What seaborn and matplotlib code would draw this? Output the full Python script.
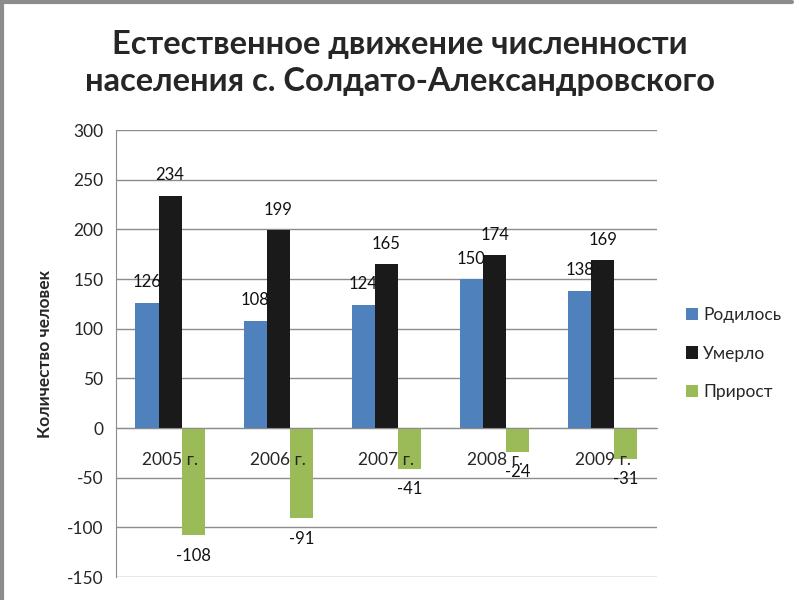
import numpy as np
import pandas as pd
import matplotlib
matplotlib.use("Agg")
import matplotlib.pyplot as plt
import seaborn as sns
from matplotlib.lines import Line2D

years = ["2005 г.", "2006 г.", "2007 г.", "2008 г.", "2009 г."]
series = ["Родилось", "Умерло", "Прирост"]
born = [126, 108, 124, 150, 138]
died = [234, 199, 165, 174, 169]
growth = [-108, -91, -41, -24, -31]
colors = ["#4F81BD", "#1A1A1A", "#9BBB59"]

df = pd.DataFrame({
    "year": years * 3,
    "series": [s for s in series for _ in years],
    "value": born + died + growth,
})

sns.set_style("white")
plt.rcParams["font.family"] = ["Lato", "DejaVu Sans"]
plt.rcParams["axes.unicode_minus"] = False

fig = plt.figure(figsize=(8, 6), dpi=100)
ax = fig.add_axes([0.145, 0.0383, 0.676, 0.745])

sns.barplot(data=df, x="year", y="value", hue="series", palette=colors,
            width=0.64, ax=ax, saturation=1, edgecolor="none", errorbar=None)

for cont in ax.containers:
    ax.bar_label(cont, fmt="%d", padding=9, fontsize=12, color="#111111")

ax.set_ylim(-150, 300)
ax.set_yticks(np.arange(-150, 301, 50))
ax.yaxis.grid(True, color="#8C8C8C", linewidth=1)
ax.set_axisbelow(True)
ax.xaxis.set_zorder(5)
ax.set_xlim(-0.5, len(years) - 0.5)

for s in ["top", "right"]:
    ax.spines[s].set_visible(False)
ax.spines["left"].set_color("#8C8C8C")
ax.spines["bottom"].set_position(("data", 0))
ax.spines["bottom"].set_color("#8C8C8C")
ax.tick_params(axis="y", length=5, color="#8C8C8C", labelsize=12.5, pad=4)
ax.tick_params(axis="x", length=0, labelsize=12.5, pad=17)

ax.set_xlabel("")
ax.set_ylabel("Количество человек", fontsize=12.5, fontweight="bold", labelpad=10)

ax.legend(loc="center left", bbox_to_anchor=(1.025, 0.5), frameon=False,
          fontsize=12.5, handlelength=0.7, handleheight=0.7, handletextpad=0.3,
          labelspacing=1.3)

fig.suptitle("Естественное движение численности\nнаселения с. Солдато-Александровского",
             fontsize=23.5, fontweight="bold", y=0.95, x=0.5, linespacing=1.35)

fig.add_artist(Line2D([0.002, 0.002], [0, 1], color="#8C8C8C", lw=3, transform=fig.transFigure))
fig.add_artist(Line2D([0, 0.99], [0.997, 0.997], color="#8C8C8C", lw=3, transform=fig.transFigure))

fig.savefig("out.png", dpi=100)
